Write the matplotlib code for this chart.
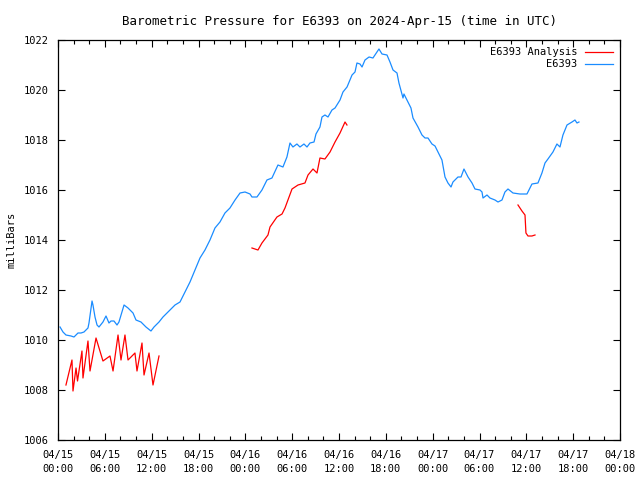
import matplotlib
matplotlib.use("Agg")
import matplotlib.pyplot as plt
import matplotlib.dates as mdates
import numpy as np
import pandas as pd

# Barometric pressure for station E6393, hours after 2024-04-15 00:00 UTC
start = pd.Timestamp("2024-04-15 00:00")

obs_hours = [0.26, 0.64, 1.02, 1.67, 2.05, 2.56, 2.95, 3.33, 3.84, 3.97, 4.36, 4.48,
             4.74, 5.00, 5.25, 5.76, 6.15, 6.53, 6.79, 7.17, 7.56, 7.81, 8.20, 8.46,
             8.97, 9.61, 9.99, 10.63, 11.27, 11.91, 12.30, 12.94, 13.45, 14.35, 14.99,
             15.63, 16.27, 16.91, 17.55, 18.19, 18.83, 19.47, 20.11, 20.75, 21.39, 22.03,
             22.68, 23.32, 23.96, 24.60, 24.85, 25.49, 26.13, 26.77, 27.41, 28.18, 28.82,
             29.33, 29.72, 30.10, 30.61, 31.00, 31.51, 31.90, 32.28, 32.80, 33.05, 33.56,
             33.82, 34.20, 34.59, 35.10, 35.49, 36.13, 36.51, 37.03, 37.67, 38.05, 38.30,
             38.69, 38.95, 39.33, 39.85, 40.35, 40.87, 41.12, 41.51, 42.15, 42.53, 42.92,
             43.43, 43.68, 44.20, 44.32, 44.71, 45.22, 45.48, 46.12, 46.63, 47.02, 47.40,
             47.91, 48.30, 48.68, 49.19, 49.58, 49.96, 50.35, 50.60, 51.24, 51.63, 52.01,
             52.53, 53.04, 53.42, 54.06, 54.32, 54.45, 54.96, 55.34, 55.98, 56.37, 56.88,
             57.26, 57.65, 58.29, 59.18, 60.08, 60.72, 61.49, 62.00, 62.39, 62.77, 63.41,
             63.92, 64.31, 64.69, 65.21, 65.85, 66.23, 66.49, 66.74]
obs_mb = [1010.52, 1010.32, 1010.20, 1010.16, 1010.12, 1010.28, 1010.28, 1010.32, 1010.48,
          1010.68, 1011.56, 1011.40, 1010.92, 1010.60, 1010.52, 1010.72, 1010.96, 1010.68,
          1010.76, 1010.76, 1010.60, 1010.72, 1011.12, 1011.40, 1011.28, 1011.08, 1010.80,
          1010.72, 1010.52, 1010.36, 1010.52, 1010.72, 1010.92, 1011.20, 1011.40, 1011.52,
          1011.92, 1012.32, 1012.80, 1013.28, 1013.60, 1014.00, 1014.48, 1014.72, 1015.08,
          1015.28, 1015.60, 1015.88, 1015.92, 1015.84, 1015.72, 1015.72, 1016.00, 1016.40,
          1016.48, 1017.00, 1016.92, 1017.32, 1017.88, 1017.72, 1017.84, 1017.72, 1017.84,
          1017.72, 1017.88, 1017.92, 1018.24, 1018.52, 1018.92, 1019.00, 1018.92, 1019.20,
          1019.28, 1019.60, 1019.92, 1020.12, 1020.60, 1020.72, 1021.08, 1021.04, 1020.92,
          1021.20, 1021.32, 1021.28, 1021.52, 1021.64, 1021.44, 1021.40, 1021.12, 1020.80,
          1020.68, 1020.28, 1019.68, 1019.84, 1019.60, 1019.28, 1018.88, 1018.52, 1018.20,
          1018.08, 1018.08, 1017.84, 1017.76, 1017.52, 1017.20, 1016.52, 1016.28, 1016.12,
          1016.32, 1016.52, 1016.52, 1016.84, 1016.52, 1016.28, 1016.04, 1016.00, 1015.92,
          1015.68, 1015.80, 1015.68, 1015.60, 1015.52, 1015.60, 1015.92, 1016.04, 1015.88,
          1015.84, 1015.84, 1016.24, 1016.28, 1016.68, 1017.08, 1017.24, 1017.52, 1017.84,
          1017.72, 1018.20, 1018.60, 1018.72, 1018.80, 1018.68, 1018.72]

# analysis series, gaps marked with nan
ana_hours = [1.02, 1.79, 1.92, 2.31, 2.50, 3.07, 3.20, 3.84, 4.10, 4.87, 5.76, 6.66, 7.05,
             7.69, 8.07, 8.58, 8.97, 9.86, 10.12, 10.76, 11.02, 11.66, 12.17, 12.94, 13.5,
             24.85, 25.62, 26.13, 26.90, 27.16, 28.05, 28.70, 29.08, 29.98, 30.75, 31.64,
             32.03, 32.67, 33.18, 33.56, 34.20, 34.85, 35.49, 36.13, 36.77, 37.02, 37.5,
             58.93, 59.44, 59.83, 59.95, 60.21, 60.72, 61.11]
ana_mb = [1008.20, 1009.20, 1007.96, 1008.88, 1008.36, 1009.56, 1008.48, 1009.96, 1008.76,
          1010.08, 1009.16, 1009.36, 1008.76, 1010.20, 1009.20, 1010.20, 1009.20, 1009.48,
          1008.76, 1009.88, 1008.60, 1009.48, 1008.20, 1009.36, np.nan,
          1013.68, 1013.60, 1013.88, 1014.20, 1014.52, 1014.92, 1015.04, 1015.28, 1016.04,
          1016.20, 1016.28, 1016.60, 1016.84, 1016.68, 1017.28, 1017.24, 1017.52, 1017.92,
          1018.28, 1018.72, 1018.60, np.nan,
          1015.40, 1015.16, 1015.00, 1014.28, 1014.16, 1014.16, 1014.20]

obs_t = start + pd.to_timedelta(obs_hours, unit="h")
ana_t = start + pd.to_timedelta(ana_hours, unit="h")

plt.rcParams["font.family"] = "DejaVu Sans Mono"
plt.rcParams["font.size"] = 7.5

fig = plt.figure(figsize=(6.4, 4.8), dpi=100)
ax = fig.add_axes([58/640, 40/480, 562/640, 400/480])

ax.plot(ana_t, ana_mb, color="#ff0000", lw=0.9, label="E6393 Analysis")
ax.plot(obs_t, obs_mb, color="#1a8cff", lw=0.9, label="E6393")

ax.set_xlim(start, start + pd.Timedelta(hours=72))
ax.set_ylim(1006, 1022)
ax.set_yticks(np.arange(1006, 1023, 2))
ax.xaxis.set_major_locator(mdates.HourLocator(byhour=[0, 6, 12, 18]))
ax.xaxis.set_minor_locator(mdates.HourLocator(interval=2))
ax.xaxis.set_major_formatter(mdates.DateFormatter("%m/%d\n%H:%M"))
plt.setp(ax.get_xticklabels(), linespacing=1.55)

ax.tick_params(which="both", direction="in", top=True, right=True, width=0.8)
ax.tick_params(which="major", length=5, pad=7)
ax.tick_params(which="minor", length=3)
for s in ax.spines.values():
    s.set_linewidth(0.9)

ax.set_ylabel("milliBars", labelpad=5)
ax.set_title("Barometric Pressure for E6393 on 2024-Apr-15 (time in UTC)", pad=11)

ax.legend(loc="upper right", frameon=False, markerfirst=False, handlelength=2.7,
          handletextpad=0.7, labelspacing=0.2, borderaxespad=0.3, borderpad=0.4)

fig.savefig("out.png", dpi=100)
